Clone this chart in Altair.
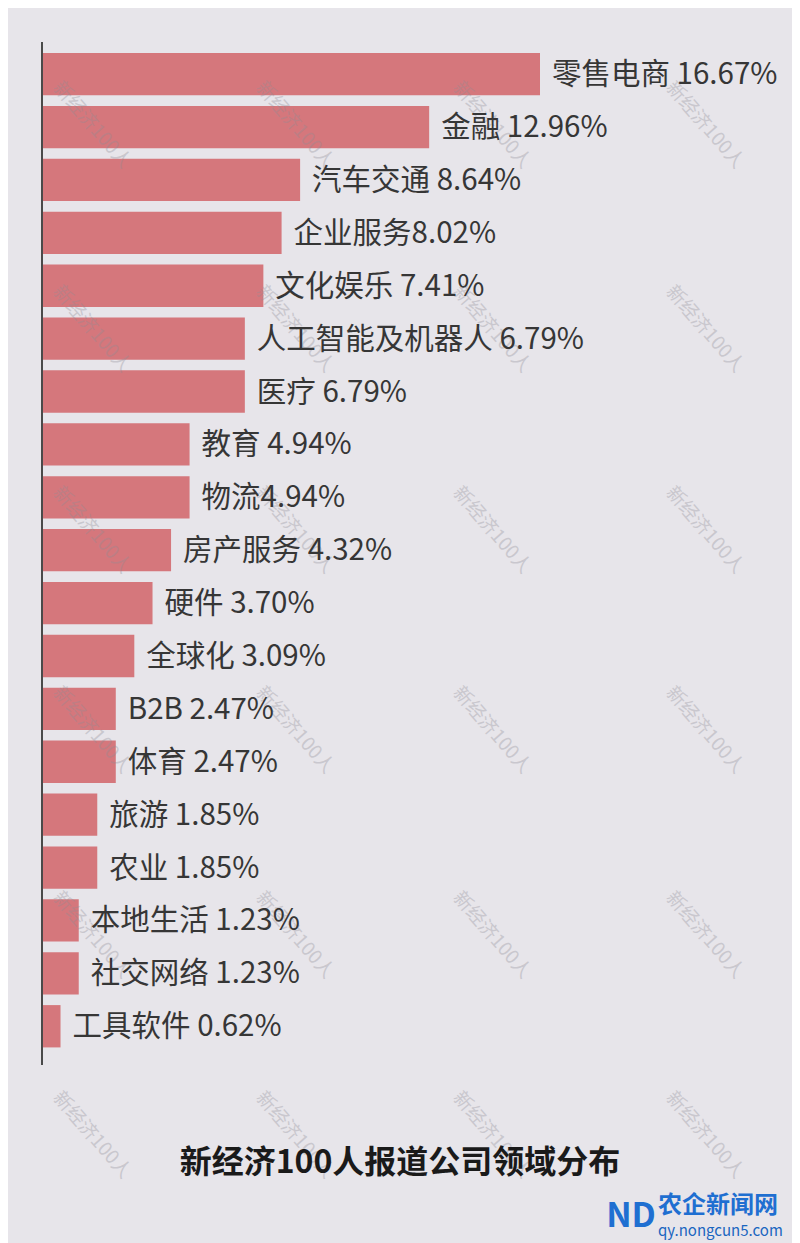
import altair as alt
import pandas as pd

categories = ["零售电商", "金融", "汽车交通", "企业服务", "文化娱乐", "人工智能及机器人", "医疗",
              "教育", "物流", "房产服务", "硬件", "全球化", "B2B", "体育", "旅游", "农业",
              "本地生活", "社交网络", "工具软件"]
values = [16.67, 12.96, 8.64, 8.02, 7.41, 6.79, 6.79, 4.94, 4.94, 4.32, 3.70, 3.09,
          2.47, 2.47, 1.85, 1.85, 1.23, 1.23, 0.62]
labels = ["零售电商 16.67%", "金融 12.96%", "汽车交通 8.64%", "企业服务8.02%", "文化娱乐 7.41%",
          "人工智能及机器人 6.79%", "医疗 6.79%", "教育 4.94%", "物流4.94%", "房产服务 4.32%",
          "硬件 3.70%", "全球化 3.09%", "B2B 2.47%", "体育 2.47%", "旅游 1.85%", "农业 1.85%",
          "本地生活 1.23%", "社交网络 1.23%", "工具软件 0.62%"]
title_text = "新经济100人报道公司领域分布"
watermark_text = "新经济100人"

df = pd.DataFrame({"cat": categories, "val": values, "label": labels})

W, H = 784, 1235
BG = "#e7e5ea"
BAR = "#d5777c"
FONT = "Noto Sans CJK SC"

xscale = alt.Scale(domain=[0, 16.67], range=[34, 532])
yscale = alt.Scale(domain=categories, range=[39.7, 1044.7], paddingInner=0.2, paddingOuter=0.1)

base = alt.Chart(df)

bars = base.mark_bar(color=BAR).encode(
    x=alt.X("val:Q", scale=xscale, axis=None),
    y=alt.Y("cat:N", scale=yscale, axis=None, sort=None),
)

texts = base.mark_text(align="left", baseline="middle", dx=12, dy=1, fontSize=29.5,
                       font=FONT, color="#363636").encode(
    x=alt.X("val:Q", scale=xscale, axis=None),
    y=alt.Y("cat:N", scale=yscale, axis=None, sort=None),
    text="label:N",
)

# decorative watermark layer
wm_cols = [84, 287, 484, 697]
wm_rows = [117, 321, 522, 722, 927, 1127]
wm = pd.DataFrame([{"px": c, "py": r, "t": watermark_text} for r in wm_rows for c in wm_cols])
watermarks = alt.Chart(wm).mark_text(angle=49, fontSize=19, font=FONT, color="#8f8d96", opacity=0.33,
                                     align="center", baseline="middle").encode(
    x=alt.X("px:Q", scale=None), y=alt.Y("py:Q", scale=None), text="t:N")

axis_line = alt.Chart(pd.DataFrame({"a": [0]})).mark_rule(color="#4a4a4a", strokeWidth=2).encode(
    x=alt.value(34), y=alt.value(34), y2=alt.value(1057))

title = alt.Chart(pd.DataFrame({"t": [title_text]})).mark_text(
    fontSize=32, fontWeight="bold", font=FONT, color="#1a1a1a", align="center", baseline="middle"
).encode(x=alt.value(392), y=alt.value(1155), text="t:N")

logo1 = alt.Chart(pd.DataFrame({"t": ["农企新闻网"]})).mark_text(
    fontSize=24, fontWeight="bold", font=FONT, color="#1f6fd1", align="left", baseline="middle"
).encode(x=alt.value(650), y=alt.value(1198), text="t:N")
logo2 = alt.Chart(pd.DataFrame({"t": ["qy.nongcun5.com"]})).mark_text(
    fontSize=15, font=FONT, color="#1a66c0", align="left", baseline="middle"
).encode(x=alt.value(650), y=alt.value(1223), text="t:N")
logo3 = alt.Chart(pd.DataFrame({"t": ["ND"]})).mark_text(
    fontSize=34, fontWeight="bold", font=FONT, color="#1f6fd1", align="center", baseline="middle"
).encode(x=alt.value(623), y=alt.value(1209), text="t:N")

chart = alt.layer(bars, watermarks, texts, axis_line, title, logo1, logo2, logo3).properties(
    width=W, height=H, background=BG, padding=0,
    autosize=alt.AutoSizeParams(type="none"),
).configure_view(stroke=None)

chart.save("out.html", embed_options={"renderer": "svg", "actions": False})
